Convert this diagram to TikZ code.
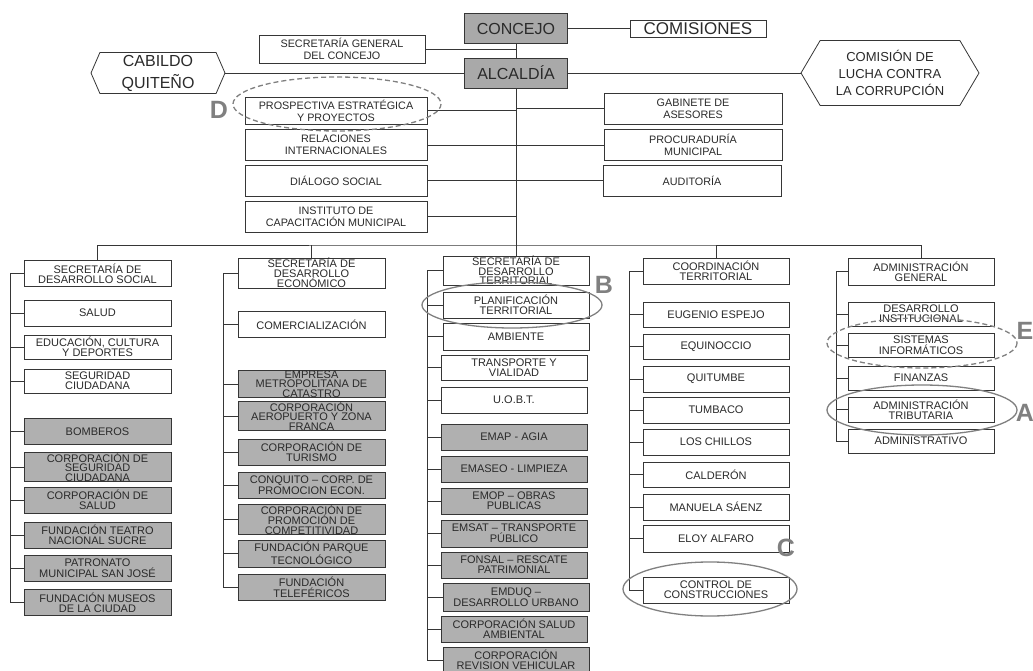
\documentclass[tikz,border=0pt]{standalone}
\usepackage{fontspec}
\setmainfont{Liberation Sans}
\usepackage{xcolor}
\usetikzlibrary{shapes.symbols}
\definecolor{grisfondo}{HTML}{B0B0B0}
\definecolor{grismando}{HTML}{A9A9A9}
\definecolor{grislinea}{HTML}{363636}
\definecolor{grismarca}{HTML}{808080}
\definecolor{gristexto}{HTML}{2A2A2A}

\begin{document}
\begin{tikzpicture}
    [x=1pt, y=-1pt,
    enlace/.style = {draw=grislinea, line width=0.8pt},
    unidad/.style = {draw=grislinea, line width=0.8pt, fill=white,
                    align=center, inner sep=0pt, text=gristexto,
                    minimum width=146pt, minimum height=26pt,
                    font=\fontsize{11}{9.6}\selectfont},
    empresa/.style = {unidad, fill=grisfondo},
    asesor/.style = {unidad, minimum width=182pt, minimum height=31pt,
                    font=\fontsize{10.8}{12}\selectfont},
    mando/.style = {draw=grislinea, line width=0.9pt, fill=grismando,
                    minimum width=103pt, minimum height=30pt, inner sep=0pt,
                    text=gristexto, font=\fontsize{16}{16}\selectfont},
    externo/.style = {signal, signal to=west and east, draw=grislinea,
                    line width=0.8pt, fill=white, align=center,
                    inner sep=0pt, text=gristexto},
    anillo/.style = {draw=grismarca, line width=1.3pt},
    letra/.style = {text=grismarca, font=\fontsize{25}{25}\selectfont\bfseries}]
    \useasboundingbox (0,0) rectangle (1033,671);
    % Concejo y Alcaldía
    \node[mando] (concejo) at (516,28.5) {CONCEJO};
    \node[mando] (alcaldia) at (516,73) {ALCALDÍA};
    \node[draw=grislinea, line width=0.8pt, minimum width=136pt,
          minimum height=17pt, inner sep=0pt, text=gristexto,
          font=\fontsize{17}{17}\selectfont] (comisiones) at (698,28.5) {COMISIONES};
    \node[unidad, minimum width=166pt, minimum height=28pt,
          font=\fontsize{10.8}{12}\selectfont] (secgen) at (342,49) {SECRETARÍA GENERAL\\DEL CONCEJO};
    \node[externo, minimum width=134pt, minimum height=41pt,
          signal pointer angle=133, font=\fontsize{16}{22}\selectfont] (cabildo) at (158,73) {CABILDO\\QUITEÑO};
    \node[externo, minimum width=178pt, minimum height=65pt,
          signal pointer angle=119, font=\fontsize{13}{17}\selectfont] (lucha) at (890,73) {COMISIÓN DE\\LUCHA CONTRA\\LA CORRUPCIÓN};
    % Unidades de apoyo
    \node[asesor, minimum height=27pt] (prosp) at (336,110.5) {PROSPECTIVA ESTRATÉGICA\\Y PROYECTOS};
    \node[asesor] (relac) at (336,145) {RELACIONES\\INTERNACIONALES};
    \node[asesor] (dialogo) at (336,180.5) {DIÁLOGO SOCIAL};
    \node[asesor] (instituto) at (336,216.5) {INSTITUTO DE\\CAPACITACIÓN MUNICIPAL};
    \node[asesor, minimum width=178pt] (gabinete) at (693,108.5) {GABINETE DE\\ASESORES};
    \node[asesor, minimum width=178pt] (procur) at (693,145) {PROCURADURÍA\\MUNICIPAL};
    \node[asesor, minimum width=178pt] (auditoria) at (692,180.5) {AUDITORÍA};
    % Desarrollo social
    \node[unidad, minimum width=147pt] (social) at (97.5,273.5) {SECRETARÍA DE\\DESARROLLO SOCIAL};
    \node[unidad, minimum width=147pt] (salud) at (97.5,313) {SALUD};
    \node[unidad, minimum width=147pt, minimum height=24pt] (educ) at (97.5,347) {EDUCACIÓN, CULTURA\\Y DEPORTES};
    \node[unidad, minimum width=147pt, minimum height=24pt] (segur) at (97.5,381) {SEGURIDAD\\CIUDADANA};
    \node[empresa, minimum width=147pt] (bomb) at (97.5,431.5) {BOMBEROS};
    \node[empresa, minimum width=147pt, minimum height=28pt] (corpseg) at (97.5,467) {CORPORACIÓN DE\\SEGURIDAD\\CIUDADANA};
    \node[empresa, minimum width=147pt] (corpsal) at (97.5,500) {CORPORACIÓN DE\\SALUD};
    \node[empresa, minimum width=147pt] (teatro) at (97.5,535) {FUNDACIÓN TEATRO\\NACIONAL SUCRE};
    \node[empresa, minimum width=147pt] (patron) at (97.5,568.5) {PATRONATO\\MUNICIPAL SAN JOSÉ};
    \node[empresa, minimum width=147pt] (museos) at (97.5,602.5) {FUNDACIÓN MUSEOS\\DE LA CIUDAD};
    % Desarrollo económico
    \node[unidad, minimum width=147pt] (economico) at (311.5,273) {SECRETARÍA DE\\DESARROLLO\\ECONÓMICO};
    \node[unidad, minimum width=147pt] (comer) at (311.5,324.5) {COMERCIALIZACIÓN};
    \node[empresa, minimum width=147pt, minimum height=22pt] (catastro) at (311.5,384) {EMPRESA\\METROPOLITANA DE\\CATASTRO};
    \node[empresa, minimum width=147pt, minimum height=24pt] (aerop) at (311.5,416) {CORPORACIÓN\\AEROPUERTO Y ZONA\\FRANCA};
    \node[empresa, minimum width=147pt] (turismo) at (311.5,452) {CORPORACIÓN DE\\TURISMO};
    \node[empresa, minimum width=147pt] (conquito) at (311.5,485) {CONQUITO – CORP. DE\\PROMOCION ECON.};
    \node[empresa, minimum width=147pt, minimum height=25pt] (compet) at (311.5,519.5) {CORPORACIÓN DE\\PROMOCIÓN DE\\COMPETITIVIDAD};
    \node[empresa, minimum width=147pt, minimum height=27pt] (parque) at (311.5,553.5) {FUNDACIÓN PARQUE\\TECNOLÓGICO};
    \node[empresa, minimum width=147pt] (telef) at (311.5,587) {FUNDACIÓN\\TELEFÉRICOS};
    % Desarrollo territorial
    \node[unidad, minimum height=25pt] (territorial) at (516,270.5) {SECRETARÍA DE\\DESARROLLO\\TERRITORIAL};
    \node[unidad, minimum height=27pt] (ambiente) at (516,336.5) {AMBIENTE};
    \node[unidad] (planif) at (516,305) {PLANIFICACIÓN\\TERRITORIAL};
    \node[unidad, minimum height=25pt] (transp) at (514,367.5) {TRANSPORTE Y\\VIALIDAD};
    \node[unidad] (uobt) at (514,400) {U.O.B.T.};
    \node[empresa] (emap) at (514,437) {EMAP - AGIA};
    \node[empresa] (emaseo) at (514,469) {EMASEO - LIMPIEZA};
    \node[empresa] (emop) at (514,501) {EMOP – OBRAS\\PUBLICAS};
    \node[empresa, minimum height=27pt] (emsat) at (514,533.5) {EMSAT – TRANSPORTE\\PÚBLICO};
    \node[empresa] (fonsal) at (514,565) {FONSAL – RESCATE\\PATRIMONIAL};
    \node[empresa, minimum height=28pt] (emduq) at (516,597) {EMDUQ –\\DESARROLLO URBANO};
    \node[empresa] (corpamb) at (514,629) {CORPORACIÓN SALUD\\AMBIENTAL};
    \node[empresa] (revision) at (516,660) {CORPORACIÓN\\REVISION VEHICULAR};
    % Coordinación territorial
    \node[unidad] (coord) at (716,271) {COORDINACIÓN\\TERRITORIAL};
    \node[unidad, minimum height=25pt] (eugenio) at (716,314.5) {EUGENIO ESPEJO};
    \node[unidad, minimum height=25pt] (equinoccio) at (716,346.5) {EQUINOCCIO};
    \node[unidad] (quitumbe) at (716,379) {QUITUMBE};
    \node[unidad] (tumbaco) at (716,410) {TUMBACO};
    \node[unidad] (chillos) at (716,442) {LOS CHILLOS};
    \node[unidad, minimum height=25pt] (calderon) at (716,474.5) {CALDERÓN};
    \node[unidad] (manuela) at (716,507) {MANUELA SÁENZ};
    \node[unidad, minimum height=27pt] (eloy) at (716,538.5) {ELOY ALFARO};
    \node[unidad] (control) at (716,590) {CONTROL DE\\CONSTRUCCIONES};
    % Administración general
    \node[unidad, minimum height=27pt] (admgen) at (921,271.5) {ADMINISTRACIÓN\\GENERAL};
    \node[unidad, minimum height=24pt] (desinst) at (921,314) {DESARROLLO\\INSTITUCIONAL};
    \node[unidad, minimum height=24pt] (sistemas) at (921,345) {SISTEMAS\\INFORMÁTICOS};
    \node[unidad, minimum height=24pt] (finanzas) at (921,378) {FINANZAS};
    \node[unidad, minimum height=25pt] (tribut) at (921,409.5) {ADMINISTRACIÓN\\TRIBUTARIA};
    \node[unidad, minimum height=24pt] (admin) at (921,441) {ADMINISTRATIVO};
    % Líneas de mando
    \coordinate (bus) at (516,245);
    \draw[enlace] (concejo) -- (alcaldia);
    \draw[enlace] (concejo) -- (comisiones);
    \draw[enlace] (cabildo.east) -- (alcaldia.west);
    \draw[enlace] (alcaldia.east) -- (lucha.west);
    \draw[enlace] (secgen.east) -- (secgen.east -| concejo.south);
    \foreach \n in {prosp,relac,dialogo,instituto}
        \draw[enlace] (\n.east) -- (\n.east -| alcaldia.south);
    \foreach \n in {gabinete,procur,auditoria}
        \draw[enlace] (\n.west) -- (\n.west -| alcaldia.south);
    \draw[enlace] (alcaldia.south) -- (territorial.north);
    \draw[enlace] (social.north) |- (bus) -| (admgen.north);
    \draw[enlace] (economico.north) -- (economico.north |- bus);
    \draw[enlace] (coord.north) -- (coord.north |- bus);
    % Dependencias de cada secretaría
    \draw[enlace] (social.west) -- ++(-13,0) |- (museos.west);
    \foreach \n in {salud,educ,segur,bomb,corpseg,corpsal,teatro,patron}
        \draw[enlace] (\n.west) -- ++(-13,0);
    \draw[enlace] (economico.west) -- ++(-14,0) |- (telef.west);
    \foreach \n in {comer,catastro,aerop,turismo,conquito,compet,parque}
        \draw[enlace] (\n.west) -- ++(-14,0);
    \draw[enlace] (territorial.west) -- ++(-15,0) coordinate (esq) |- (revision.west);
    \foreach \n in {planif,ambiente,transp,uobt,emap,emaseo,emop,emsat,fonsal,emduq,corpamb}
        \draw[enlace] (\n.west) -- (\n.west -| esq);
    \draw[enlace] (coord.west) -- ++(-13,0) |- (control.west);
    \foreach \n in {eugenio,equinoccio,quitumbe,tumbaco,chillos,calderon,manuela,eloy}
        \draw[enlace] (\n.west) -- ++(-13,0);
    \draw[enlace] (admgen.west) -- ++(-11,0) |- (admin.west);
    \foreach \n in {desinst,sistemas,finanzas,tribut}
        \draw[enlace] (\n.west) -- ++(-11,0);
    % Marcas A a E
    \draw[anillo, dash pattern=on 5pt off 3pt] (337,104) ellipse [x radius=104, y radius=27];
    \draw[anillo] (512,305) ellipse [x radius=90, y radius=23];
    \draw[anillo] (710,589) ellipse [x radius=87, y radius=27];
    \draw[anillo, dash pattern=on 5pt off 3pt] (922,343) ellipse [x radius=95, y radius=25];
    \draw[anillo] (922,410) ellipse [x radius=95, y radius=25];
    \node[letra] (marcaD) at (219,110) {D};
    \node[letra] (marcaB) at (604,285) {B};
    \node[letra] (marcaC) at (786,548) {C};
    \node[letra] (marcaE) at (1025,331) {E};
    \node[letra] (marcaA) at (1025,413) {A};
\end{tikzpicture}
\end{document}
